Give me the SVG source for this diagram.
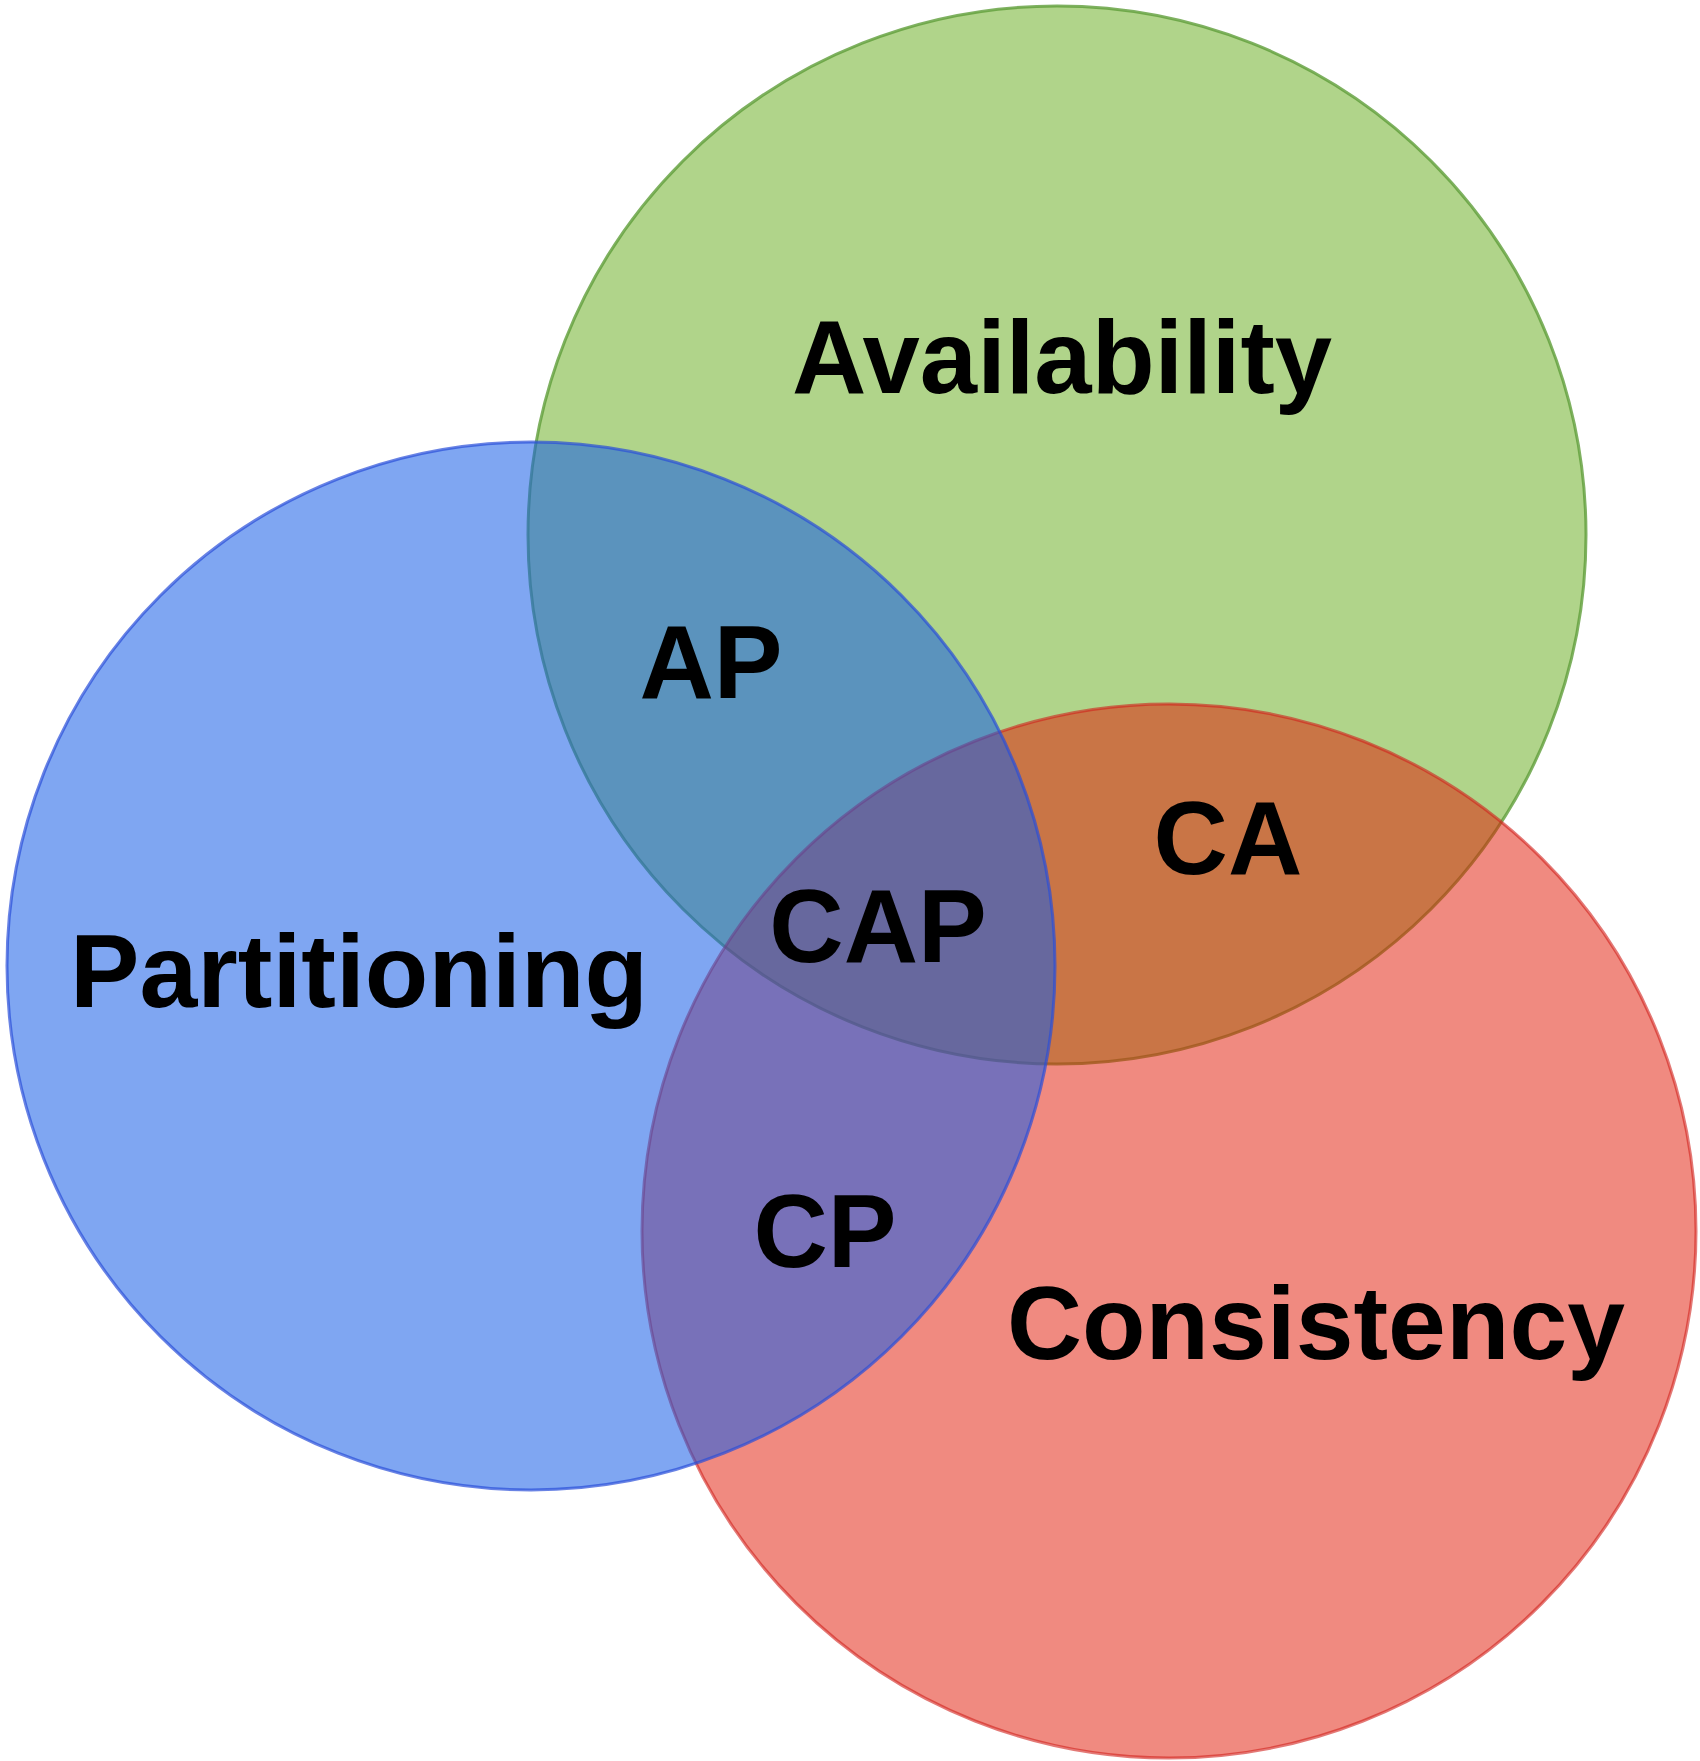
<svg xmlns="http://www.w3.org/2000/svg" width="1700" height="1761" viewBox="0 0 1700 1761">
<style>
.lbl{font-family:"Liberation Sans",Arial,sans-serif;font-weight:bold;font-size:103px;fill:#000;text-anchor:middle}
.c{stroke-width:3}
</style>
<rect width="1700" height="1761" fill="#ffffff"/>
<g id="availability">
<circle class="c" cx="1057" cy="535" r="529" fill="#6fb12a" fill-opacity="0.55" stroke="#5f9e3a" stroke-opacity="0.8"/>
</g>
<g id="consistency">
<circle class="c" cx="1169" cy="1231" r="527" fill="#e11501" fill-opacity="0.5" stroke="#d0201a" stroke-opacity="0.6"/>
</g>
<g id="partitioning">
<circle class="c" cx="531" cy="966" r="524" fill="#165de7" fill-opacity="0.55" stroke="#2a4fd8" stroke-opacity="0.7"/>
</g>
<g id="labels">
<text class="lbl" x="1062" y="393">Availability</text>
<text class="lbl" x="711" y="698">AP</text>
<text class="lbl" x="1228" y="874">CA</text>
<text class="lbl" x="878" y="962">CAP</text>
<text class="lbl" x="359" y="1007" textLength="578" lengthAdjust="spacingAndGlyphs">Partitioning</text>
<text class="lbl" x="825" y="1267">CP</text>
<text class="lbl" x="1316" y="1359" textLength="618" lengthAdjust="spacingAndGlyphs">Consistency</text>
</g>
<g id="connectors"></g>
</svg>
